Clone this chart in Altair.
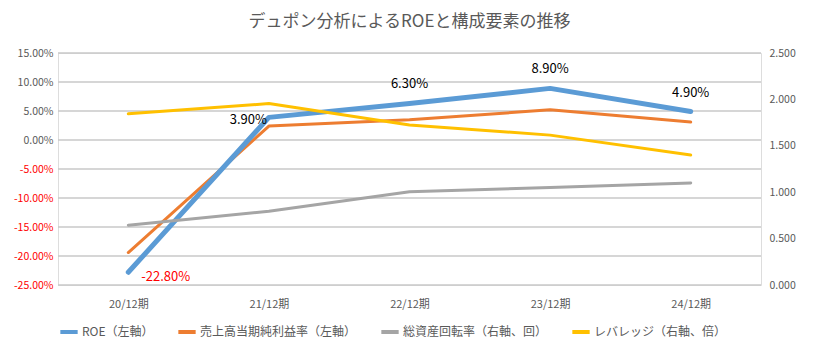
import altair as alt
import pandas as pd

categories = ["20/12期", "21/12期", "22/12期", "23/12期", "24/12期"]
roe = [-22.8, 3.9, 6.3, 8.9, 4.9]
margin = [-19.4, 2.4, 3.5, 5.2, 3.1]
turnover = [0.645, 0.795, 1.005, 1.05, 1.10]
leverage = [1.845, 1.955, 1.725, 1.615, 1.40]
roe_labels = ["-22.80%", "3.90%", "6.30%", "8.90%", "4.90%"]
left_ticks = [-25, -20, -15, -10, -5, 0, 5, 10, 15]
right_ticks = [0, 0.5, 1, 1.5, 2, 2.5]

series_names = ["ROE（左軸）", "売上高当期純利益率（左軸）", "総資産回転率（右軸、回）", "レバレッジ（右軸、倍）"]
series_colors = ["#5B9BD5", "#ED7D31", "#A5A5A5", "#FFC000"]

FONT = "Noto Sans CJK JP"
TXT = "#595959"

def frame(vals, name, extra=None):
    d = pd.DataFrame({"cat": categories, "val": vals, "series": name})
    if extra is not None:
        d["label"] = extra
    return d

df_roe = frame(roe, series_names[0], roe_labels)
df_margin = frame(margin, series_names[1])
df_turn = frame(turnover, series_names[2])
df_lev = frame(leverage, series_names[3])
df_grid = pd.DataFrame({"val": left_ticks})

x_enc = alt.X("cat:N", sort=categories, title=None,
              scale=alt.Scale(type="point", padding=0.5),
              axis=alt.Axis(labelAngle=0, domain=False, ticks=False, grid=False,
                            labelFont=FONT, labelFontSize=11, labelColor=TXT, labelPadding=13))

color_enc = alt.Color("series:N",
                      scale=alt.Scale(domain=series_names, range=series_colors),
                      legend=alt.Legend(title=None, orient="bottom", direction="horizontal",
                                        symbolType="stroke", symbolStrokeWidth=4, symbolSize=300,
                                        labelFont=FONT, labelFontSize=12, labelColor=TXT,
                                        columnPadding=16, labelOffset=2, offset=12))

left_scale = alt.Scale(domain=[-25, 15])
left_y = alt.Y("val:Q", scale=left_scale, title=None,
               axis=alt.Axis(values=left_ticks, domain=False, ticks=False, grid=False,
                             labelFont=FONT, labelFontSize=10.5, labelPadding=5,
                             labelExpr="(datum.value < 0 ? '-' : '') + format(abs(datum.value), '.2f') + '%'",
                             labelColor={"condition": {"test": "datum.value < 0", "value": "#FF0000"}, "value": TXT}))

line_kw = dict(strokeCap="round", strokeJoin="round")

grid = alt.Chart(df_grid).mark_rule(color="#C8C8C8", strokeWidth=1.3).encode(y=left_y)
roe_line = alt.Chart(df_roe).mark_line(strokeWidth=5, **line_kw).encode(x=x_enc, y=left_y, color=color_enc)
margin_line = alt.Chart(df_margin).mark_line(strokeWidth=3, **line_kw).encode(x=x_enc, y=left_y, color=color_enc)

txt_kw = dict(font=FONT, fontSize=13)
lab_up = alt.Chart(df_roe).transform_filter(
    alt.FieldOneOfPredicate(field="cat", oneOf=categories[2:])
).mark_text(dy=-19, color="#000000", **txt_kw).encode(x=x_enc, y=left_y, text="label:N")
lab_39 = alt.Chart(df_roe).transform_filter(
    alt.FieldEqualPredicate(field="cat", equal=categories[1])
).mark_text(align="right", dx=-2, dy=3, color="#000000", **txt_kw).encode(x=x_enc, y=left_y, text="label:N")
lab_neg = alt.Chart(df_roe).transform_filter(
    alt.FieldEqualPredicate(field="cat", equal=categories[0])
).mark_text(align="left", dx=13, dy=5, color="#FF0000", **txt_kw).encode(x=x_enc, y=left_y, text="label:N")

left = alt.layer(grid, margin_line, roe_line, lab_up, lab_39, lab_neg)

right_scale = alt.Scale(domain=[0, 2.5])
right_y = alt.Y("val:Q", scale=right_scale, title=None,
                axis=alt.Axis(orient="right", values=right_ticks, format=".3f",
                              domain=False, ticks=False, grid=False,
                              labelFont=FONT, labelFontSize=10.5, labelColor=TXT, labelPadding=8))

turn_line = alt.Chart(df_turn).mark_line(strokeWidth=3, **line_kw).encode(x=x_enc, y=right_y, color=color_enc)
lev_line = alt.Chart(df_lev).mark_line(strokeWidth=3, **line_kw).encode(x=x_enc, y=right_y, color=color_enc)
right = alt.layer(turn_line, lev_line)

chart = alt.layer(left, right).resolve_scale(y="independent").properties(
    width=703, height=232,
    title=alt.TitleParams("デュポン分析によるROEと構成要素の推移", font=FONT, fontSize=17,
                          fontWeight="normal", color=TXT, offset=20, dy=3),
).configure_view(strokeWidth=0).configure(background="white")

chart.save("out.html", embed_options={"renderer": "svg", "actions": False})
